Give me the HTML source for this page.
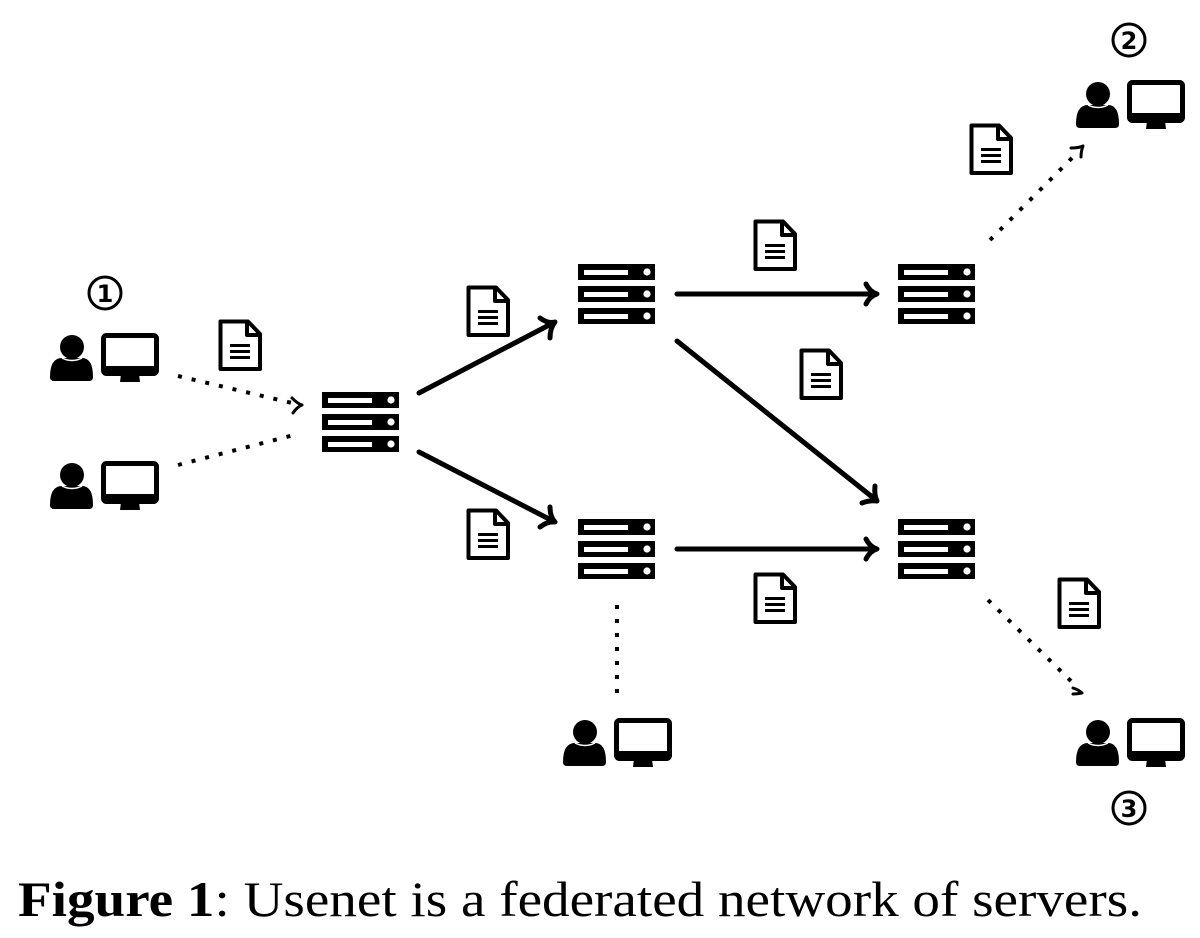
<!DOCTYPE html>
<html><head><meta charset="utf-8"><style>html,body{margin:0;padding:0;background:#fff}svg{display:block}</style></head>
<body>
<svg width="1200" height="938" viewBox="0 0 1200 938" xmlns="http://www.w3.org/2000/svg">
<defs>
<g id="srv">
 <rect x="0" y="0" width="77" height="16" fill="#000"/>
 <rect x="0" y="22" width="77" height="16" fill="#000"/>
 <rect x="0" y="44" width="77" height="16" fill="#000"/>
 <rect x="6" y="6" width="44" height="5" fill="#fff"/>
 <rect x="6" y="28" width="44" height="5" fill="#fff"/>
 <rect x="6" y="50" width="44" height="5" fill="#fff"/>
 <circle cx="69" cy="8" r="3.6" fill="#fff"/>
 <circle cx="69" cy="30" r="3.6" fill="#fff"/>
 <circle cx="69" cy="52" r="3.6" fill="#fff"/>
</g>
<g id="usr">
 <circle cx="22" cy="14" r="12" fill="#000"/>
 <path d="M0,44 Q0,25 12,25 L32,25 Q43,25 43,44 Q43,48 39,48 L4,48 Q0,48 0,44 Z" fill="#000"/>
 <path d="M12,25 Q22,30 32,25" stroke="#fff" stroke-width="1.5" fill="none"/>
 <rect x="53.5" y="2.5" width="53" height="38" rx="3" fill="#fff" stroke="#000" stroke-width="5"/>
 <rect x="53" y="33" width="54" height="9" rx="2" fill="#000"/>
 <path d="M71,41 L89,41 L90,49 L70,49 Z" fill="#000"/>
</g>
<g id="doc">
 <path d="M2.5,2.5 L30,2.5 L42,15 L42,50 L2.5,50 Z" fill="#fff" stroke="#000" stroke-width="4" stroke-linejoin="round"/>
 <path d="M29,2.5 L29,16 L42,16" fill="none" stroke="#000" stroke-width="4" stroke-linejoin="round"/>
 <rect x="12" y="25" width="20" height="3" fill="#000"/>
 <rect x="12" y="31" width="20" height="3" fill="#000"/>
 <rect x="12" y="37" width="20" height="3" fill="#000"/>
</g>
</defs>

<use href="#srv" x="322" y="392"/>
<use href="#srv" x="578" y="264"/>
<use href="#srv" x="898" y="264"/>
<use href="#srv" x="578" y="519"/>
<use href="#srv" x="898" y="519"/>

<use href="#usr" x="50" y="333"/>
<use href="#usr" x="50" y="461"/>
<use href="#usr" x="563" y="718"/>
<use href="#usr" x="1076" y="80"/>
<use href="#usr" x="1076" y="718"/>

<use href="#doc" x="218" y="319"/>
<use href="#doc" x="466" y="285"/>
<use href="#doc" x="466" y="508"/>
<use href="#doc" x="753" y="219"/>
<use href="#doc" x="799" y="348"/>
<use href="#doc" x="753" y="572"/>
<use href="#doc" x="969" y="123"/>
<use href="#doc" x="1057" y="577"/>

<g stroke="#000" stroke-width="5" fill="none" stroke-linecap="round" stroke-linejoin="round">
 <line x1="419" y1="393" x2="553" y2="323"/>
 <path d="M540,318 Q548,324 555,322 Q550,328 550,338"/>
 <line x1="419" y1="452" x2="553" y2="521"/>
 <path d="M550,507 Q550,517 555,522 Q548,521 540,527"/>
 <line x1="677" y1="294" x2="876" y2="294"/>
 <path d="M866,284 Q870,292 877,294 Q870,296 866,304"/>
 <line x1="677" y1="549" x2="876" y2="549"/>
 <path d="M866,539 Q870,547 877,549 Q870,551 866,559"/>
 <line x1="677" y1="341" x2="876" y2="500"/>
 <path d="M875,486 Q874,495 877,501 Q870,500 862,503"/>
</g>

<g stroke="#000" stroke-width="4" fill="none" stroke-dasharray="4 10">
 <line x1="178" y1="376" x2="292" y2="403"/>
 <line x1="178" y1="465" x2="298" y2="434"/>
 <line x1="617" y1="605" x2="617" y2="700"/>
 <line x1="990" y1="240" x2="1075" y2="155"/>
 <line x1="988" y1="600" x2="1074" y2="684"/>
</g>
<g stroke="#000" stroke-width="3" fill="none" stroke-linecap="round" stroke-linejoin="round">
 <path d="M292,398 Q298,404 302,405 Q297,407 293,413"/>
 <path d="M1071,148 Q1079,148 1083,146 Q1081,151 1081,157"/>
 <path d="M1073,688 Q1079,690 1082,693 Q1077,694 1073,694"/>
</g>

<g fill="none" stroke="#000" stroke-width="3">
 <circle cx="105" cy="293" r="16"/>
 <circle cx="1129" cy="40" r="16"/>
 <circle cx="1129" cy="808" r="16"/>
</g>
<g font-family="'DejaVu Sans', sans-serif" font-weight="bold" font-size="24" text-anchor="middle" fill="#000">
 <text x="105" y="302">1</text>
 <text x="1129" y="49">2</text>
 <text x="1129" y="817">3</text>
</g>

<text x="18" y="916" font-family="'Liberation Serif', serif" font-size="50" fill="#000" textLength="1124" lengthAdjust="spacingAndGlyphs"><tspan font-weight="bold">Figure 1</tspan>: Usenet is a federated network of servers.</text>
</svg>
</body></html>
